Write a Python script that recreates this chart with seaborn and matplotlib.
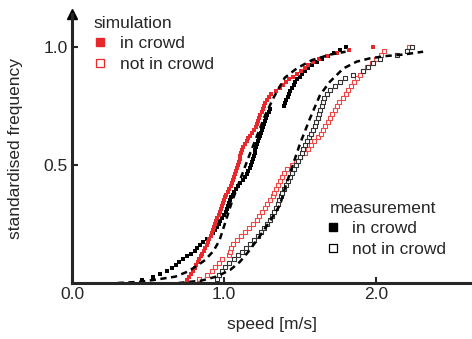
import numpy as np
import pandas as pd
import seaborn as sns
import matplotlib.pyplot as plt
from matplotlib.lines import Line2D

# speeds [m/s], sorted
sim_in_crowd = [0.755, 0.769, 0.783, 0.795, 0.807, 0.819, 0.829, 0.838, 0.848, 0.858,
                0.868, 0.877, 0.887, 0.895, 0.904, 0.912, 0.920, 0.928, 0.935, 0.942,
                0.949, 0.957, 0.964, 0.971, 0.979, 0.986, 0.992, 0.999, 1.005, 1.014,
                1.024, 1.034, 1.043, 1.052, 1.061, 1.067, 1.072, 1.078, 1.084, 1.090,
                1.096, 1.102, 1.108, 1.113, 1.119, 1.128, 1.138, 1.150, 1.161, 1.173,
                1.185, 1.197, 1.209, 1.218, 1.225, 1.232, 1.239, 1.247, 1.254, 1.262,
                1.273, 1.284, 1.295, 1.310, 1.339, 1.368, 1.388, 1.407, 1.427, 1.453,
                1.482, 1.509, 1.532, 1.555, 1.586, 1.625, 1.680, 1.741, 1.820, 1.980]

sim_not_in_crowd = [0.838, 0.890, 0.923, 0.944, 0.965, 0.985, 1.036, 1.039, 1.043, 1.057,
                    1.085, 1.111, 1.137, 1.163, 1.189, 1.215, 1.232, 1.250, 1.268, 1.286,
                    1.303, 1.320, 1.332, 1.344, 1.356, 1.368, 1.383, 1.398, 1.416, 1.445,
                    1.474, 1.502, 1.530, 1.551, 1.572, 1.594, 1.618, 1.637, 1.652, 1.666,
                    1.681, 1.696, 1.712, 1.727, 1.743, 1.759, 1.780, 1.802, 1.819, 1.835,
                    1.854, 1.875, 1.895, 1.914, 1.942, 1.972, 2.001, 2.031, 2.055, 2.220]

meas_in_crowd = [0.463, 0.530, 0.578, 0.626, 0.659, 0.682, 0.705, 0.731, 0.757, 0.783,
                 0.806, 0.824, 0.842, 0.860, 0.887, 0.914, 0.930, 0.944, 0.957, 0.967,
                 0.976, 0.986, 0.998, 1.010, 1.018, 1.025, 1.033, 1.040, 1.049, 1.059,
                 1.068, 1.080, 1.093, 1.106, 1.122, 1.138, 1.152, 1.160, 1.168, 1.177,
                 1.185, 1.192, 1.196, 1.201, 1.205, 1.210, 1.214, 1.221, 1.228, 1.234,
                 1.241, 1.249, 1.256, 1.263, 1.271, 1.278, 1.286, 1.293, 1.300, 1.393,
                 1.402, 1.410, 1.418, 1.427, 1.436, 1.445, 1.458, 1.470, 1.483, 1.497,
                 1.511, 1.530, 1.555, 1.580, 1.611, 1.647, 1.683, 1.724, 1.763, 1.800]

meas_not_in_crowd = [0.955, 0.964, 0.985, 1.006, 1.033, 1.063, 1.091, 1.117, 1.144, 1.170,
                     1.196, 1.222, 1.244, 1.262, 1.281, 1.300, 1.313, 1.326, 1.340, 1.352,
                     1.362, 1.373, 1.383, 1.395, 1.408, 1.421, 1.434, 1.447, 1.460, 1.473,
                     1.485, 1.498, 1.510, 1.523, 1.535, 1.548, 1.560, 1.572, 1.585, 1.597,
                     1.608, 1.617, 1.626, 1.633, 1.642, 1.651, 1.661, 1.677, 1.696, 1.728,
                     1.761, 1.793, 1.851, 1.915, 1.946, 1.978, 2.029, 2.138, 2.201, 2.235]

# fitted distributions (dashed)
fit_in_speed = [0.30, 0.45, 0.56, 0.68, 0.76, 0.82, 0.875, 0.93, 0.97, 1.01, 1.05,
                1.105, 1.16, 1.215, 1.27, 1.33, 1.40, 1.48, 1.58, 1.70, 1.80]
fit_in_freq = [0.0, 0.005, 0.015, 0.027, 0.048, 0.072, 0.097, 0.135, 0.18, 0.26, 0.34,
               0.436, 0.53, 0.62, 0.71, 0.79, 0.87, 0.91, 0.945, 0.968, 0.98]
fit_not_speed = [0.70, 0.85, 0.95, 1.04, 1.105, 1.17, 1.237, 1.30, 1.368, 1.40, 1.434,
                 1.50, 1.566, 1.632, 1.697, 1.785, 1.873, 1.96, 2.07, 2.18, 2.31]
fit_not_freq = [0.0, 0.01, 0.027, 0.055, 0.09, 0.14, 0.2, 0.26, 0.33, 0.40, 0.465,
                0.59, 0.698, 0.797, 0.853, 0.909, 0.938, 0.952, 0.962, 0.968, 0.98]

x_ticks = [0.0, 1.0, 2.0]
y_ticks = [0.5, 1.0]

red = '#e8282b'


def ecdf(speeds):
    df = pd.DataFrame({'speed': speeds})
    df['freq'] = df['speed'].rank(method='first') / len(df)
    return df


sns.set_style('ticks')
plt.rcParams['font.family'] = ['Liberation Sans', 'DejaVu Sans']
plt.rcParams['font.size'] = 12.5

fig = plt.figure(figsize=(4.72, 3.39), dpi=100)
ax = fig.add_axes([72 / 472, 56 / 339, 400 / 472, 269 / 339])

# open squares
sns.scatterplot(data=ecdf(sim_not_in_crowd), x='speed', y='freq', ax=ax, marker='s',
                s=12, facecolor='white', edgecolor='#f04545', linewidth=0.8)
sns.scatterplot(data=ecdf(meas_not_in_crowd), x='speed', y='freq', ax=ax, marker='s',
                s=12, facecolor='white', edgecolor='#333333', linewidth=0.8)
# filled
sns.scatterplot(data=ecdf(meas_in_crowd), x='speed', y='freq', ax=ax, marker='s',
                s=10, color='black', linewidth=0)
sns.scatterplot(data=ecdf(sim_in_crowd), x='speed', y='freq', ax=ax, marker='s',
                s=9, color=red, linewidth=0)

# fits
sns.lineplot(x=fit_in_speed, y=fit_in_freq, ax=ax, color='black', lw=1.8,
             linestyle=(0, (2.5, 1.8)), sort=False)
sns.lineplot(x=fit_not_speed, y=fit_not_freq, ax=ax, color='black', lw=1.8,
             linestyle=(0, (2.5, 1.8)), sort=False)

ax.set_xlim(0, 400 / 152)
ax.set_ylim(0, 269 / 236)
ax.set_xticks(x_ticks)
ax.set_xticklabels([f'{t:.1f}' for t in x_ticks])
ax.set_yticks(y_ticks)
ax.set_yticklabels([f'{t:.1f}' for t in y_ticks])
ax.tick_params(direction='in', length=4, width=1.5, labelsize=12.5, pad=3)

sns.despine(ax=ax)
ax.spines['left'].set_linewidth(2.2)
ax.spines['bottom'].set_linewidth(2.2)
ax.plot(0, 1, marker='^', ms=7, color='black', transform=ax.transAxes, clip_on=False)

ax.set_xlabel('speed [m/s]', fontsize=12.5)
ax.set_ylabel('standardised frequency', fontsize=12.5)
ax.xaxis.set_label_coords(0.5, -0.128)
ax.yaxis.set_label_coords(-0.1225, 0.5)

sim_handles = [Line2D([], [], ls='', marker='s', ms=6, color=red),
               Line2D([], [], ls='', marker='s', ms=6, mfc='white', mec=red, mew=0.9)]
leg1 = ax.legend(sim_handles, ['in crowd', 'not in crowd'], title='simulation',
                 loc='upper left', bbox_to_anchor=(93 / 472, 1 - 16 / 339),
                 bbox_transform=fig.transFigure, frameon=False, alignment='left',
                 fontsize=12.5, title_fontsize=12.5, borderpad=0, borderaxespad=0,
                 labelspacing=0.3, handlelength=0.85, handletextpad=0.72)
ax.add_artist(leg1)

meas_handles = [Line2D([], [], ls='', marker='s', ms=6, color='black'),
                Line2D([], [], ls='', marker='s', ms=6, mfc='white', mec='black', mew=0.9)]
ax.legend(meas_handles, ['in crowd', 'not in crowd'], title='measurement',
          loc='upper left', bbox_to_anchor=(330 / 472, 1 - 201 / 339),
          bbox_transform=fig.transFigure, frameon=False, alignment='left',
          fontsize=12.5, title_fontsize=12.5, borderpad=0, borderaxespad=0,
          labelspacing=0.3, handlelength=0.3, handletextpad=0.97)

plt.savefig('out.png', dpi=100)
